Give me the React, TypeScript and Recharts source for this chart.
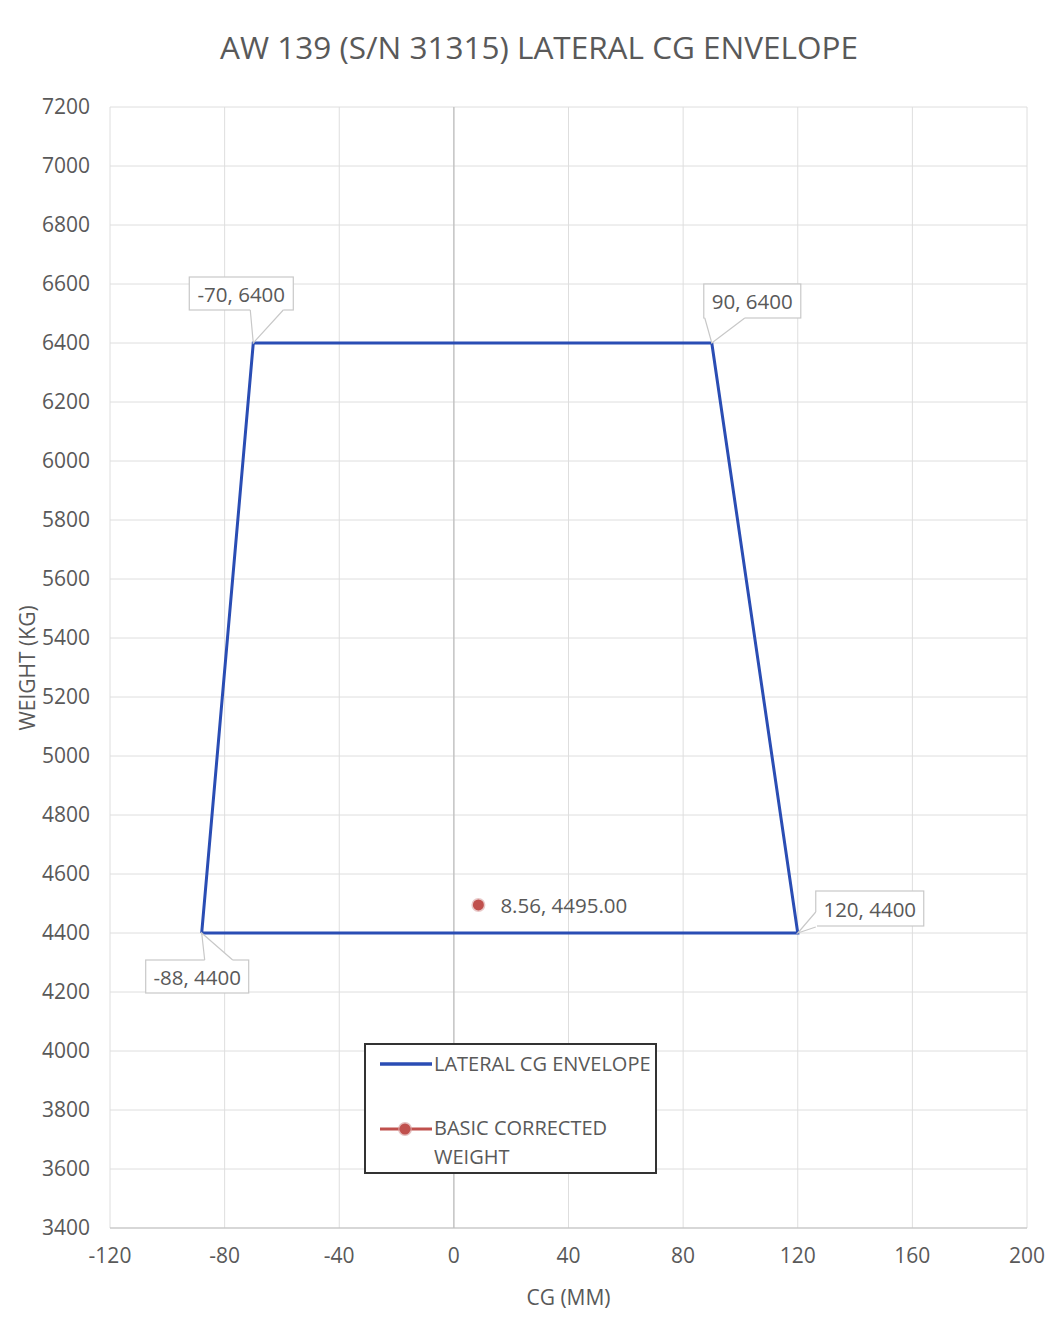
import React from 'react';
import { ComposedChart, Line, Scatter, XAxis, YAxis, CartesianGrid, ReferenceLine } from 'recharts';

const envelopeCG = [-88, -70, 90, 120, -88];
const envelopeWeight = [4400, 6400, 6400, 4400, 4400];
const basicCG = [8.56];
const basicWeight = [4495.0];
const xTicks = [-120, -80, -40, 0, 40, 80, 120, 160, 200];
const yTicks = [3400, 3600, 3800, 4000, 4200, 4400, 4600, 4800, 5000, 5200, 5400, 5600, 5800, 6000, 6200, 6400, 6600, 6800, 7000, 7200];

const envelopeData = envelopeCG.map((x, i) => ({ x, w: envelopeWeight[i], i }));
const basicData = basicCG.map((x, i) => ({ x, w: basicWeight[i] }));

const FONT = '"Open Sans", sans-serif';
const TXT = '#595959';
const BLUE = '#2a4db4';
const RED = '#c0504d';

// callout geometry (px, relative to the data point): box left/top/width/height and pointer base
type Callout = { l: number; t: number; w: number; h: number; side: 'top' | 'bottom' | 'left'; a: number; b: number } | null;
const callouts: Callout[] = [
  { l: -56, t: 27, w: 103, h: 33, side: 'top', a: 3, b: 31 },
  { l: -64, t: -66, w: 104, h: 33, side: 'bottom', a: -3, b: 30 },
  { l: -8, t: -59, w: 97, h: 34, side: 'bottom', a: -7, b: 33 },
  { l: 18, t: -42, w: 108, h: 35, side: 'left', a: -21, b: -6 },
  null,
];

const renderCallout = (props: any) => {
  const { cx, cy, index, payload } = props;
  const c = callouts[index];
  if (!c || cx == null) return <g key={`c-${index}`} />;
  const bx = cx + c.l;
  const by = cy + c.t;
  let p1: [number, number], p2: [number, number];
  if (c.side === 'top') { p1 = [cx + c.a, by]; p2 = [cx + c.b, by]; }
  else if (c.side === 'bottom') { p1 = [cx + c.a, by + c.h]; p2 = [cx + c.b, by + c.h]; }
  else { p1 = [bx, cy + c.a]; p2 = [bx, cy + c.b]; }
  const label = `${payload.x}, ${payload.w}`;
  return (
    <g key={`c-${index}`}>
      <polygon points={`${p1[0]},${p1[1]} ${cx},${cy} ${p2[0]},${p2[1]}`} fill="#fff" stroke="none" />
      <rect x={bx} y={by} width={c.w} height={c.h} fill="#fff" stroke="#c8c8c8" strokeWidth={1.2} />
      <line x1={p1[0]} y1={p1[1]} x2={p2[0]} y2={p2[1]} stroke="#fff" strokeWidth={2.5} />
      <polyline points={`${p1[0]},${p1[1]} ${cx},${cy} ${p2[0]},${p2[1]}`} fill="none" stroke="#c8c8c8" strokeWidth={1.2} />
      <text x={bx + c.w / 2} y={by + c.h / 2} textAnchor="middle" dominantBaseline="central" fontFamily={FONT} fontSize={20.5} fill={TXT}>{label}</text>
    </g>
  );
};

const renderBasic = (props: any) => {
  const { cx, cy, payload } = props;
  return (
    <g>
      <circle cx={cx} cy={cy} r={7} fill="#d9a3a3" opacity={0.6} />
      <circle cx={cx} cy={cy} r={5.5} fill={RED} />
      <text x={cx + 22} y={cy} dominantBaseline="central" fontFamily={FONT} fontSize={20.5} fill={TXT}>
        {`${payload.x.toFixed(2)}, ${payload.w.toFixed(2)}`}
      </text>
    </g>
  );
};

const LegendBox = () => (
  <div style={{ position: 'absolute', left: 364, top: 1043, width: 293, height: 131, boxSizing: 'border-box', border: '2px solid #333', background: '#fff', fontFamily: FONT, fontSize: 20, color: TXT }}>
    <svg width={60} height={130} style={{ position: 'absolute', left: 12, top: 0 }}>
      <line x1={2} y1={19} x2={54} y2={19} stroke={BLUE} strokeWidth={3.5} />
      <line x1={2} y1={84} x2={54} y2={84} stroke={RED} strokeWidth={3} />
      <circle cx={27} cy={84} r={7} fill="#d9a3a3" opacity={0.7} />
      <circle cx={27} cy={84} r={5.5} fill={RED} />
    </svg>
    <div style={{ position: 'absolute', left: 68, top: 4, lineHeight: '29px', whiteSpace: 'nowrap' }}>LATERAL CG ENVELOPE</div>
    <div style={{ position: 'absolute', left: 68, top: 68, lineHeight: '29px', whiteSpace: 'nowrap' }}>BASIC CORRECTED<br />WEIGHT</div>
  </div>
);

export default function App() {
  return (
    <div style={{ position: 'absolute', left: 0, top: 0, width: 1062, height: 1334, background: '#fff' }}>
      <div style={{ position: 'absolute', left: 0, top: 25, width: 1078, textAlign: 'center', fontFamily: FONT, fontSize: 31.5, color: TXT, whiteSpace: 'nowrap' }}>
        AW 139 (S/N 31315) LATERAL CG ENVELOPE
      </div>
      <ComposedChart width={1062} height={1334} margin={{ top: 107, right: 35, bottom: 26, left: 10 }}>
        <CartesianGrid stroke="#dedede" strokeWidth={1} />
        <XAxis
          type="number"
          dataKey="x"
          domain={[-120, 200]}
          ticks={xTicks}
          allowDataOverflow
          height={80}
          tickLine={false}
          tickSize={6}
          tickMargin={14}
          axisLine={{ stroke: '#bfbfbf' }}
          tick={{ fill: TXT, fontSize: 21, fontFamily: FONT }}
          label={{ value: 'CG (MM)', position: 'insideBottom', offset: 3, fill: TXT, fontSize: 21, fontFamily: FONT }}
        />
        <YAxis
          type="number"
          dataKey="w"
          domain={[3400, 7200]}
          ticks={yTicks}
          allowDataOverflow
          width={100}
          tickLine={false}
          tickSize={6}
          tickMargin={14}
          axisLine={false}
          tick={{ fill: TXT, fontSize: 21, fontFamily: FONT }}
          label={{
            content: () => (
              <text x={27} y={668} transform="rotate(-90 27 668)" textAnchor="middle" dominantBaseline="central" fill={TXT} fontSize={21} fontFamily={FONT}>WEIGHT (KG)</text>
            ),
          }}
        />
        <ReferenceLine x={0} stroke="#bdbdbd" strokeWidth={1.2} />
        <Line
          data={envelopeData}
          dataKey="w"
          type="linear"
          stroke={BLUE}
          strokeWidth={3}
          dot={renderCallout}
          activeDot={false}
          isAnimationActive={false}
          name="LATERAL CG ENVELOPE"
        />
        <Scatter data={basicData} dataKey="w" fill={RED} shape={renderBasic} isAnimationActive={false} name="BASIC CORRECTED WEIGHT" />
      </ComposedChart>
      <LegendBox />
    </div>
  );
}
